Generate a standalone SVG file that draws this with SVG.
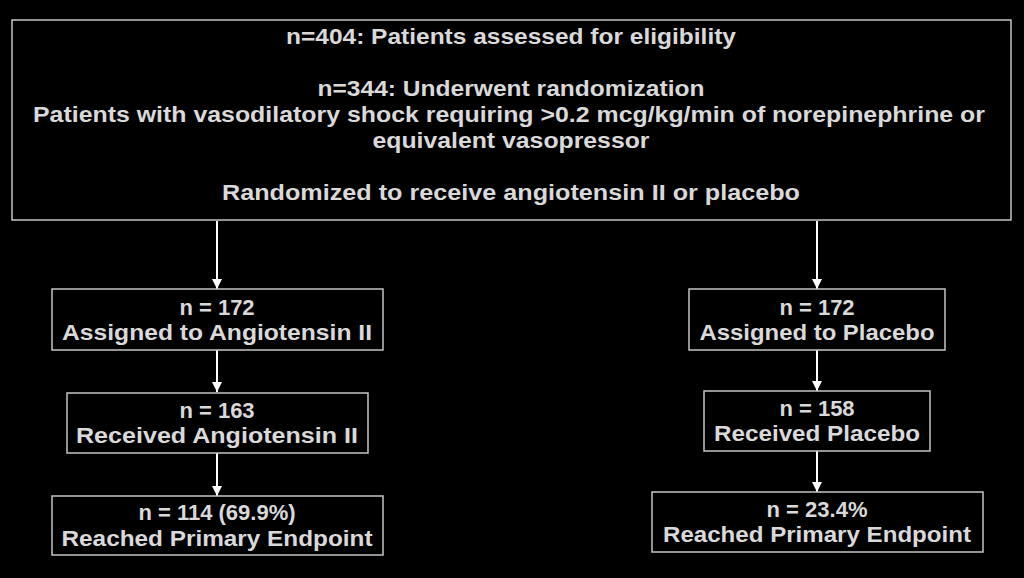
<svg xmlns="http://www.w3.org/2000/svg" width="1024" height="578" viewBox="0 0 1024 578">
<style>
.box{fill:#000;stroke:#c4c4c4;stroke-width:1.5}
.t{font-family:"Liberation Sans",Arial,sans-serif;font-weight:bold;font-size:22px;fill:#d9d9d9;text-anchor:middle}
.c{stroke:#fff;stroke-width:2;fill:none}
</style>
<defs>
<marker id="ah" viewBox="0 0 10 10" refX="10" refY="5" markerWidth="5" markerHeight="5" orient="auto" markerUnits="strokeWidth">
<path d="M0,0 L10,5 L0,10 z" fill="#fff"/>
</marker>
</defs>
<rect width="1024" height="578" fill="#000"/>
<g id="connectors">
<line class="c" x1="217" y1="221" x2="217" y2="289" marker-end="url(#ah)"/>
<line class="c" x1="217" y1="350" x2="217" y2="392" marker-end="url(#ah)"/>
<line class="c" x1="217" y1="453" x2="217" y2="496" marker-end="url(#ah)"/>
<line class="c" x1="817" y1="221" x2="817" y2="289" marker-end="url(#ah)"/>
<line class="c" x1="817" y1="350" x2="817" y2="391" marker-end="url(#ah)"/>
<line class="c" x1="817" y1="451" x2="817" y2="492" marker-end="url(#ah)"/>
</g>
<g id="top">
<rect class="box" x="12" y="20" width="999" height="200"/>
<text class="t" x="511" y="44" textLength="450" lengthAdjust="spacingAndGlyphs">n=404: Patients assessed for eligibility</text>
<text class="t" x="511" y="96" textLength="387" lengthAdjust="spacingAndGlyphs">n=344: Underwent randomization</text>
<text class="t" x="509" y="122" textLength="952" lengthAdjust="spacingAndGlyphs">Patients with vasodilatory shock requiring &gt;0.2 mcg/kg/min of norepinephrine or</text>
<text class="t" x="511" y="148" textLength="277" lengthAdjust="spacingAndGlyphs">equivalent vasopressor</text>
<text class="t" x="511" y="200" textLength="578" lengthAdjust="spacingAndGlyphs">Randomized to receive angiotensin II or placebo</text>
</g>
<g id="assigned-ang">
<rect class="box" x="52" y="289" width="331" height="61"/>
<text class="t" x="217" y="315">n = 172</text>
<text class="t" x="217" y="340" textLength="310" lengthAdjust="spacingAndGlyphs">Assigned to Angiotensin II</text>
</g>
<g id="received-ang">
<rect class="box" x="67" y="393" width="301" height="60"/>
<text class="t" x="217" y="418">n = 163</text>
<text class="t" x="217" y="443" textLength="282" lengthAdjust="spacingAndGlyphs">Received Angiotensin II</text>
</g>
<g id="endpoint-ang">
<rect class="box" x="52" y="496" width="331" height="59"/>
<text class="t" x="217" y="520">n = 114 (69.9%)</text>
<text class="t" x="217" y="546" textLength="311" lengthAdjust="spacingAndGlyphs">Reached Primary Endpoint</text>
</g>
<g id="assigned-pla">
<rect class="box" x="689" y="289" width="256" height="61"/>
<text class="t" x="817" y="315">n = 172</text>
<text class="t" x="817" y="340" textLength="235" lengthAdjust="spacingAndGlyphs">Assigned to Placebo</text>
</g>
<g id="received-pla">
<rect class="box" x="704" y="391" width="226" height="60"/>
<text class="t" x="817" y="416">n = 158</text>
<text class="t" x="817" y="441" textLength="206" lengthAdjust="spacingAndGlyphs">Received Placebo</text>
</g>
<g id="endpoint-pla">
<rect class="box" x="652" y="492" width="331" height="60"/>
<text class="t" x="817" y="517">n = 23.4%</text>
<text class="t" x="817" y="542" textLength="308" lengthAdjust="spacingAndGlyphs">Reached Primary Endpoint</text>
</g>
</svg>
